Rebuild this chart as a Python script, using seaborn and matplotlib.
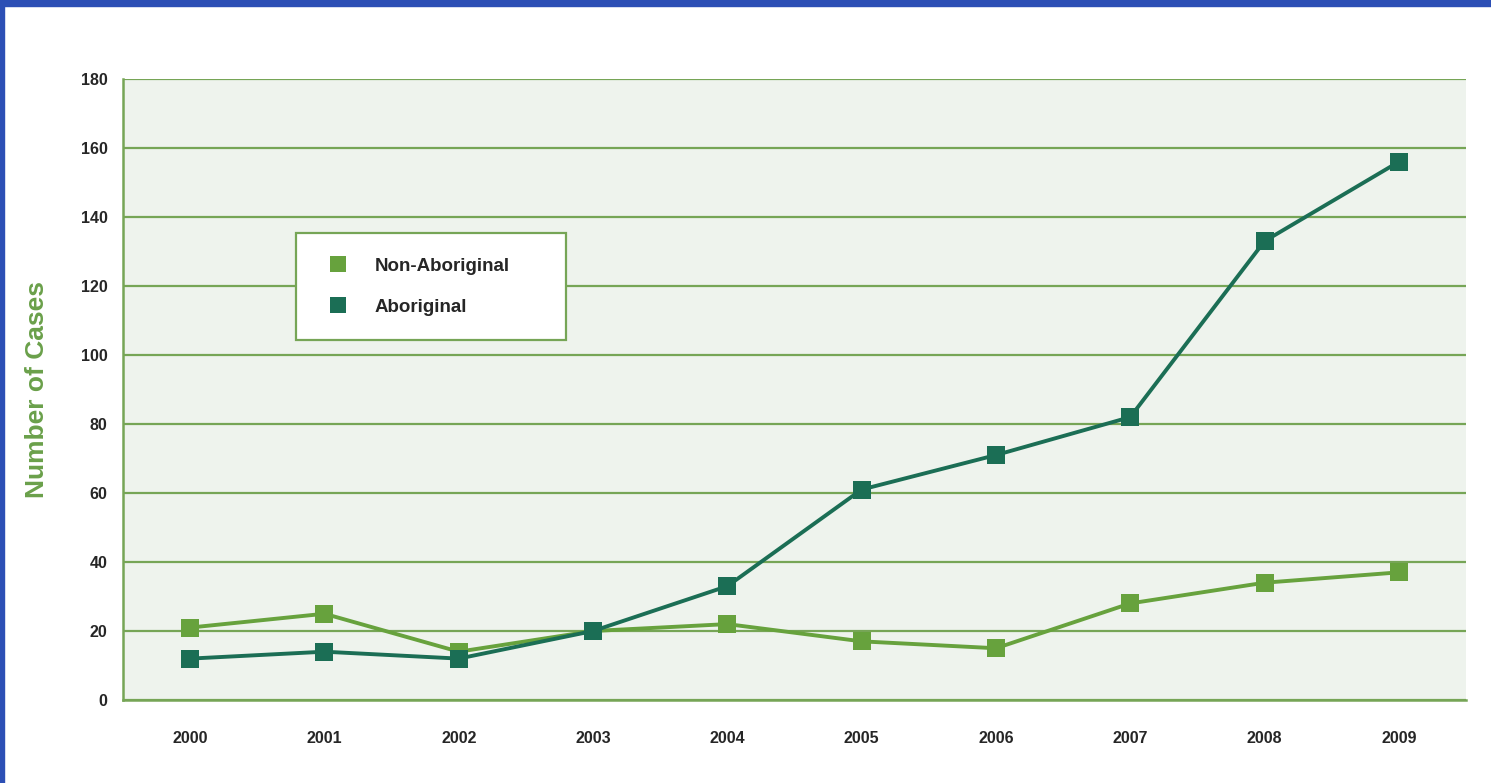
import matplotlib
matplotlib.use("Agg")
import matplotlib.pyplot as plt
import seaborn as sns
import pandas as pd
from matplotlib.patches import Rectangle
from matplotlib.ticker import FixedLocator

years = [2000, 2001, 2002, 2003, 2004, 2005, 2006, 2007, 2008, 2009]
non_aboriginal = [21, 25, 14, 20, 22, 17, 15, 28, 34, 37]
aboriginal = [12, 14, 12, 20, 33, 61, 71, 82, 133, 156]
series_names = ["Non-Aboriginal", "Aboriginal"]
y_ticks = [0, 20, 40, 60, 80, 100, 120, 140, 160, 180]

df = pd.DataFrame({
    "Year": years * 2,
    "Cases": non_aboriginal + aboriginal,
    "Group": [series_names[0]] * len(years) + [series_names[1]] * len(years),
})

sns.set_theme(style="white")
plt.rcParams["font.family"] = ["Liberation Sans Narrow", "Liberation Sans", "DejaVu Sans"]

light = "#67a23d"
dark = "#1b6e55"
grid_c = "#76a556"
bg = "#eef3ed"

fig = plt.figure(figsize=(14.91, 7.83), dpi=100)
ax = fig.add_axes([123 / 1491, 1 - 700 / 783, (1466 - 123) / 1491, (700 - 79) / 783])
ax.set_facecolor(bg)

sns.lineplot(data=df, x="Year", y="Cases", hue="Group", style="Group",
             palette={series_names[0]: light, series_names[1]: dark},
             markers={series_names[0]: "s", series_names[1]: "s"},
             dashes=False, markersize=13, markeredgewidth=0, linewidth=2.8,
             ax=ax, legend=True, zorder=3)

ax.set_xlim(years[0] - 0.5, years[-1] + 0.5)
ax.set_ylim(0, 180)
ax.set_yticks(y_ticks)
ax.set_yticklabels([str(v) for v in y_ticks], fontsize=11.5, fontweight="bold")
ax.set_xticks(years)
ax.set_xticklabels([str(y) for y in years], fontsize=11.5, fontweight="bold")
ax.xaxis.set_minor_locator(FixedLocator([y + 0.5 for y in years]))
ax.tick_params(axis="x", which="major", length=0, pad=22)
ax.tick_params(axis="x", which="minor", length=12, width=1.6, color=grid_c, direction="in")
ax.tick_params(axis="y", length=0, pad=11)
ax.yaxis.grid(True, color=grid_c, linewidth=1.6)
ax.set_axisbelow(True)
for s in ["left", "bottom"]:
    ax.spines[s].set_color(grid_c)
    ax.spines[s].set_linewidth(1.8)
ax.spines["top"].set_visible(False)
ax.spines["right"].set_visible(False)

ax.set_xlabel("")
ax.set_ylabel("Number of Cases", fontsize=19, fontweight="bold", color="#6aa04a")
ax.yaxis.set_label_coords(-0.055, 0.5)

handles, labels = ax.get_legend_handles_labels()
lw_ax = 270 / 1343
lh_ax = 106 / 621
leg = ax.legend(handles, labels, loc="upper left",
                bbox_to_anchor=(0.129, 0.752 - lh_ax, lw_ax, lh_ax), mode="expand",
                frameon=True, fancybox=False, borderpad=1.3,
                labelspacing=1.3, handlelength=1.9, handletextpad=1.0,
                borderaxespad=0, prop={"weight": "bold", "size": 13.5})
leg.get_frame().set_edgecolor(grid_c)
leg.get_frame().set_linewidth(1.6)
leg.get_frame().set_facecolor("white")
leg.get_frame().set_alpha(1)
for h in leg.legend_handles:
    h.set_linestyle("None")
    h.set_markersize(11)

blue = "#2c4fb5"
fig.patches.append(Rectangle((0, 1 - 6 / 783), 1, 6 / 783, transform=fig.transFigure, color=blue, zorder=10))
fig.patches.append(Rectangle((0, 0), 4 / 1491, 1, transform=fig.transFigure, color=blue, zorder=10))

fig.savefig("out.png", dpi=100)
